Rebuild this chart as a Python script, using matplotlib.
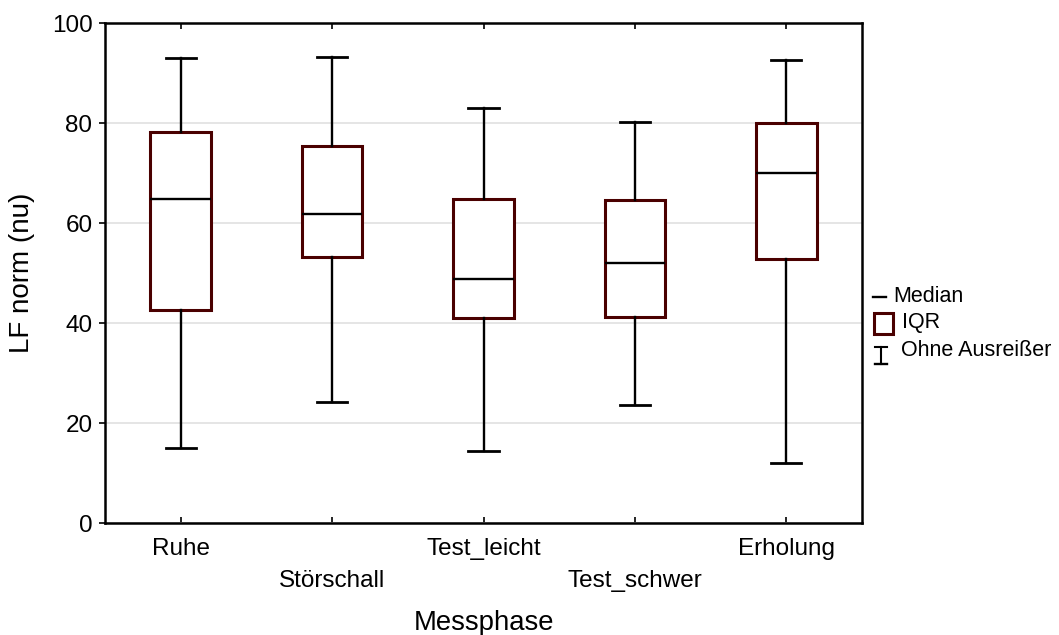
import matplotlib
matplotlib.use("Agg")
import matplotlib.pyplot as plt
from matplotlib.lines import Line2D
from matplotlib.patches import Rectangle

categories = ["Ruhe", "Störschall", "Test_leicht", "Test_schwer", "Erholung"]
whisker_low = [15.1, 24.3, 14.5, 23.6, 12.1]
q1 = [42.7, 53.2, 41.1, 41.3, 52.9]
median = [64.9, 61.8, 48.8, 52.1, 70.0]
q3 = [78.2, 75.5, 64.9, 64.6, 80.1]
whisker_high = [93.1, 93.2, 83.0, 80.2, 92.6]
y_ticks = [0, 20, 40, 60, 80, 100]
legend_labels = ["Median", "IQR", "Ohne Ausreißer"]

W, H = 1059, 635
DPI = 100
plt.rcParams['font.family'] = ['Liberation Sans', 'DejaVu Sans']

fig = plt.figure(figsize=(W / DPI, H / DPI), dpi=DPI)
ax = fig.add_axes([105 / W, 1 - 523 / H, (862 - 105) / W, (523 - 23) / H])

BOXC = "#4a0000"
stats = []
for i, c in enumerate(categories):
    stats.append(dict(label=c, whislo=whisker_low[i], q1=q1[i], med=median[i],
                      q3=q3[i], whishi=whisker_high[i], fliers=[]))
positions = list(range(len(categories)))
ax.bxp(stats, positions=positions, widths=0.4, capwidths=0.2, showfliers=False,
       patch_artist=True,
       boxprops=dict(facecolor="white", edgecolor=BOXC, linewidth=2.2),
       whiskerprops=dict(color="black", linewidth=1.7),
       capprops=dict(color="black", linewidth=2.0),
       medianprops=dict(color="black", linewidth=1.7),
       zorder=3)

ax.set_xlim(-0.5, len(categories) - 0.5)
ax.set_ylim(0, 100)
ax.set_yticks(y_ticks)
ax.set_yticklabels([str(v) for v in y_ticks], fontsize=17.5)
ax.set_xticks(positions)
ax.set_xticklabels([c if i % 2 == 0 else "\n" + c for i, c in enumerate(categories)],
                   fontsize=17.5, linespacing=1.58, va="top")

ax.grid(axis="y", color="#e3e3e3", linewidth=1.3, zorder=0)
ax.set_axisbelow(True)
ax.tick_params(axis="x", direction="in", top=True, bottom=True, length=4, width=1.2, pad=11)
ax.tick_params(axis="y", direction="out", left=True, right=False, length=4, width=1.2, pad=5)
for s in ax.spines.values():
    s.set_linewidth(1.8)
    s.set_color("black")

ax.set_ylabel("LF norm (nu)", fontsize=20)
ax.yaxis.set_label_coords(-(105 - 22) / (862 - 105), 0.5)
ax.set_xlabel("Messphase", fontsize=19.8)
ax.xaxis.set_label_coords(0.5, -(623 - 523) / (523 - 23))
ax.xaxis.label.set_va("center")
ax.yaxis.label.set_va("center")

# legend (drawn in pixel-based figure coordinates)
def fx(x):
    return x / W

def fy(y):
    return 1 - y / H

fig.add_artist(Line2D([fx(873), fx(886)], [fy(296.5), fy(296.5)], color="black", lw=1.7,
                      transform=fig.transFigure))
fig.add_artist(Rectangle((fx(874), fy(333.5)), fx(893) - fx(874), fy(312.5) - fy(333.5),
                         facecolor="white", edgecolor=BOXC, lw=2.2, transform=fig.transFigure))
fig.add_artist(Line2D([fx(875), fx(887)], [fy(347), fy(347)], color="black", lw=1.5,
                      transform=fig.transFigure))
fig.add_artist(Line2D([fx(881), fx(881)], [fy(347), fy(364)], color="black", lw=1.5,
                      transform=fig.transFigure))
fig.add_artist(Line2D([fx(875), fx(887)], [fy(364), fy(364)], color="black", lw=1.7,
                      transform=fig.transFigure))
fig.text(fx(893), fy(296.5), legend_labels[0], fontsize=15.5, va="center", ha="left")
fig.text(fx(902), fy(322.5), legend_labels[1], fontsize=15.5, va="center", ha="left")
fig.text(fx(901), fy(350), legend_labels[2], fontsize=15.5, va="center", ha="left")

fig.savefig("out.png", dpi=DPI)
